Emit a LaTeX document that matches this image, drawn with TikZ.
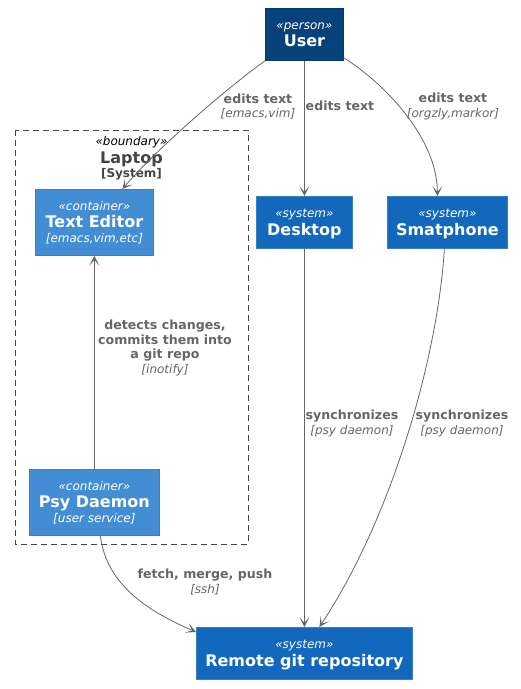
\documentclass[tikz,border=0pt]{standalone}
\usepackage{fontspec}
\setmainfont{DejaVu Sans}
\usetikzlibrary{arrows.meta,calc}
\definecolor{personc}{HTML}{08427B}
\definecolor{personb}{HTML}{073B6F}
\definecolor{contc}{HTML}{438DD5}
\definecolor{sysc}{HTML}{1168BD}
\definecolor{boxb}{HTML}{3C7FC0}
\definecolor{linec}{HTML}{666666}
\definecolor{bndc}{HTML}{444444}
\newcommand\stt[1]{{\itshape\fontsize{12}{16}\selectfont «#1»}}
\newcommand\nm[1]{{\bfseries\fontsize{16}{16}\selectfont #1}}
\newcommand\tc[1]{{\itshape\fontsize{12}{16}\selectfont [#1]}}
\newcommand\ti[1]{{\mdseries\itshape\fontsize{12}{14.5}\selectfont [#1]}}
\begin{document}
\begin{tikzpicture}[x=1pt,y=-1pt,
  every node/.style={inner sep=0pt},
  box/.style={draw=#1, line width=0.8pt, text=white, align=center, anchor=north west,
    font=\fontsize{12}{16}\selectfont},
  elabel/.style={text=linec, align=center, font=\bfseries\fontsize{12.6}{14.5}\selectfont},
  conn/.style={draw=linec, line width=0.8pt, -{Stealth[length=10pt,width=10pt,inset=6pt]}}
]
\useasboundingbox (0,0) rectangle (521,689);
% boundary
\draw[bndc, dashed, dash pattern=on 6pt off 4pt, line width=0.8pt] (15,130) rectangle (248,544);
\node[align=center, font=\fontsize{12}{15}\selectfont] (bnd) at (131.5,158.5)
  {{\itshape «boundary»}\\[3pt]{\color{bndc}\bfseries\fontsize{16}{16}\selectfont Laptop}\\[-1pt]{\color{bndc}\bfseries [System]}};
% nodes
\node[box=personb, fill=personc, minimum width=78pt, minimum height=52pt] (user) at (265,8)
  {\stt{person}\\[1pt]\nm{User}};
\node[box=boxb, fill=contc, minimum width=118pt, minimum height=66pt] (te) at (35,189)
  {\stt{container}\\[1pt]\nm{Text Editor}\\[-1pt]\tc{emacs,vim,etc}};
\node[box=boxb, fill=sysc, minimum width=96pt, minimum height=52pt] (desk) at (256,196)
  {\rule{0pt}{12pt}\stt{system}\\[2pt]\nm{Desktop}};
\node[box=boxb, fill=sysc, minimum width=120pt, minimum height=52pt] (phone) at (387,196)
  {\rule{0pt}{12pt}\stt{system}\\[2pt]\nm{Smatphone}};
\node[box=boxb, fill=contc, minimum width=130pt, minimum height=66pt] (psy) at (29,469)
  {\stt{container}\\[1pt]\nm{Psy Daemon}\\[-1pt]\tc{user service}};
\node[box=boxb, fill=sysc, minimum width=216pt, minimum height=52pt] (remote) at (196,627)
  {\rule{0pt}{12pt}\stt{system}\\[2pt]\nm{Remote git repository}};
% connectors
\draw[conn] (user.south west) .. controls ($(user.south west)+(-35,25)$) and ($(te.north)+(66,-44)$) .. ($(te.north)+(28,0)$);
\draw[conn] (user.south -| desk.north) -- (desk.north);
\draw[conn] ($(user.south east)+(0,-3)$) .. controls ($(user.south east)+(37,20)$) and ($(phone.north)+(-10,-60)$) .. ($(phone.north)+(-10,0)$);
\draw[conn] (psy.north -| te.south) -- (te.south);
\draw[conn] (desk.south) -- (desk.south |- remote.north);
\draw[conn] ($(phone.south)+(-3,0)$) .. controls ($(phone.south)+(-10,112)$) and ($(remote.north)+(86,-107)$) .. ($(remote.north)+(15,0)$);
\draw[conn] ($(psy.south)+(6,0)$) .. controls ($(psy.south)+(12,50)$) and ($(remote.north west)+(-46,-15)$) .. ($(remote.north west)+(0,5)$);
% labels
\node[elabel] (l1) at (258,106.5) {edits text\\\ti{emacs,vim}};
\node[elabel] (l2) at (340,106) {edits text};
\node[elabel] (l3) at (453,106.5) {edits text\\\ti{orgzly,markor}};
\node[elabel] (l4) at (165,348) {detects changes,\\commits them into\\a git repo\\\ti{inotify}};
\node[elabel] (l5) at (352,423.5) {synchronizes\\\ti{psy daemon}};
\node[elabel] (l6) at (462,423.5) {synchronizes\\\ti{psy daemon}};
\node[elabel] (l7) at (205,582) {fetch, merge, push\\\ti{ssh}};
\end{tikzpicture}
\end{document}
